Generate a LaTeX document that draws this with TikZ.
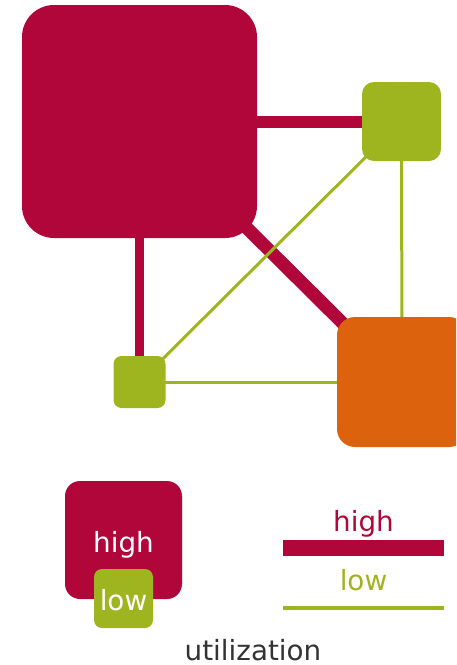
\documentclass[tikz,border=0pt]{standalone}
\usepackage{fontspec}
\setmainfont{DejaVu Sans}
\usetikzlibrary{backgrounds}
\definecolor{utilhigh}{RGB}{177,6,58}
\definecolor{utillow}{RGB}{159,181,32}
\definecolor{utilmid}{RGB}{220,98,14}
\definecolor{captiongray}{RGB}{51,51,51}
\begin{document}
\begin{tikzpicture}[x=1pt,y=-1pt,
  box/.style={rectangle, inner sep=0pt, draw=none},
  label/.style={inner sep=0pt, anchor=base, font=\fontsize{27.8}{33}\selectfont},
  highlink/.style={draw=utilhigh},
  lowlink/.style={draw=utillow, line width=3pt}]
\useasboundingbox (0,0) rectangle (456,665);
\clip (0,0) rectangle (456,665);

% network nodes, sized by load
\node[box, fill=utilhigh, minimum width=235pt, minimum height=233pt, rounded corners=32pt] (core) at (139.5,121.5) {};
\node[box, fill=utillow, minimum size=79pt, rounded corners=12pt] (ne) at (401.5,121.5) {};
\node[box, fill=utilmid, minimum size=130pt, rounded corners=18pt] (se) at (402,382) {};
\node[box, fill=utillow, minimum size=52pt, rounded corners=8pt] (sw) at (139.5,382) {};

% links, drawn beneath the nodes
\begin{scope}[on background layer]
  \draw[highlink, line width=12pt] (core.center) -- (ne.center);
  \draw[highlink, line width=9pt] (core.center) -- (sw.center);
  \draw[highlink, line width=13pt] (core.center) -- (se.center);
  \draw[lowlink] (ne.center) -- (sw.center);
  \draw[lowlink] (ne.center) -- (se.center);
  \draw[lowlink] (sw.center) -- (se.center);
\end{scope}

% legend: node utilization
\node[box, fill=utilhigh, minimum width=117pt, minimum height=118pt, rounded corners=15pt] (lgbig) at (123.5,540) {};
\node[box, fill=utillow, minimum size=59pt, rounded corners=8pt] (lgsmall) at (123.5,598.5) {};
\node[label, text=white] (lgbigtext) at (123.5,552) {high};
\node[label, text=white] (lgsmalltext) at (123.5,610) {low};

% legend: link utilization
\coordinate (lhA) at (283,548);
\coordinate (lhB) at (444,548);
\coordinate (llA) at (283,608);
\coordinate (llB) at (444,608);
\draw[highlink, line width=16pt] (lhA) -- (lhB);
\draw[draw=utillow, line width=4pt] (llA) -- (llB);
\node[label, text=utilhigh] (lhtext) at (363.5,531) {high};
\node[label, text=utillow] (lltext) at (363.5,590) {low};

% caption
\node[label, text=captiongray] (caption) at (253,660) {utilization};
\end{tikzpicture}
\end{document}
